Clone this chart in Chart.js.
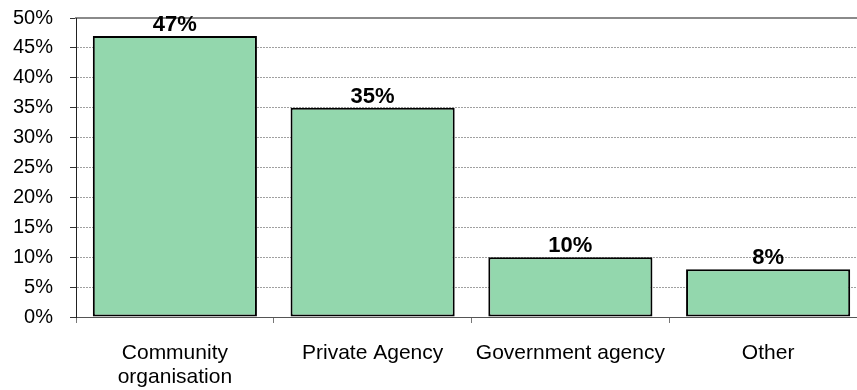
<!DOCTYPE html>
<html>
<head>
<meta charset="utf-8">
<script src="https://cdn.jsdelivr.net/npm/chart.js@4/dist/chart.umd.min.js"></script>
<style>
  html, body { margin: 0; padding: 0; background: #fff; overflow: hidden; }
  #wrap { width: 867px; height: 390px; }
</style>
</head>
<body>
<div id="wrap"><canvas id="c"></canvas></div>
<script>
// Who provides the service: share of respondents by provider type
const categories = [['Community', 'organisation'], 'Private Agency', 'Government agency', 'Other'];
const shares = [47, 35, 10, 8];
const yTicks = [0, 5, 10, 15, 20, 25, 30, 35, 40, 45, 50];

const FONT = '"Liberation Sans", Arial, sans-serif';

// Writes each bar's percentage just above its top edge
const valueLabels = {
  id: 'valueLabels',
  afterDatasetsDraw(chart) {
    const ctx = chart.ctx;
    const meta = chart.getDatasetMeta(0);
    ctx.save();
    ctx.font = 'bold 22px ' + FONT;
    ctx.fillStyle = '#000';
    ctx.textAlign = 'center';
    ctx.textBaseline = 'alphabetic';
    meta.data.forEach((bar, i) => {
      ctx.fillText(shares[i] + '%', bar.x, bar.y - 5);
    });
    ctx.restore();
  }
};

new Chart(document.getElementById('c'), {
  type: 'bar',
  data: {
    labels: categories,
    datasets: [{
      data: shares,
      backgroundColor: '#93D7AD',
      borderColor: '#000',
      borderWidth: 2,
      borderSkipped: false,
      categoryPercentage: 1,
      barPercentage: 0.83
    }]
  },
  options: {
    responsive: true,
    maintainAspectRatio: false,
    animation: false,
    layout: { padding: { top: 18, right: 0, left: 0, bottom: 0 } },
    plugins: { legend: { display: false }, tooltip: { enabled: false } },
    scales: {
      x: {
        offset: true,
        afterFit(scale) { scale.height = 73; },
        grid: {
          offset: true,
          drawOnChartArea: false,
          drawTicks: true,
          tickLength: 6,
          tickColor: '#777',
          color: '#777'
        },
        border: { color: '#555', width: 1 },
        ticks: {
          color: '#000',
          font: { family: FONT, size: 21, lineHeight: 1.143 },
          padding: 18,
          maxRotation: 0,
          autoSkip: false
        }
      },
      xTop: {
        type: 'category',
        position: 'top',
        labels: categories,
        grid: { display: false, drawTicks: false },
        ticks: { display: false },
        border: { color: '#8a8a8a', width: 2 }
      },
      y: {
        min: 0,
        max: 50,
        afterBuildTicks(scale) {
          scale.ticks = yTicks.map(v => ({ value: v }));
        },
        afterFit(scale) {
          scale.width = 76;
          scale.paddingTop = 0;
          scale.paddingBottom = 0;
        },
        grid: {
          color: (ctx) => (ctx.tick && ctx.tick.value > 0 && ctx.tick.value < 50) ? '#a0a0a0' : 'rgba(0,0,0,0)',
          lineWidth: 1,
          drawTicks: true,
          tickLength: 6,
          tickColor: '#333'
        },
        border: { color: '#222', width: 1, dash: [2, 1] },
        ticks: {
          color: '#000',
          font: { family: FONT, size: 20 },
          padding: 17,
          callback: (v) => v + '%'
        }
      }
    }
  },
  plugins: [valueLabels]
});
</script>
</body>
</html>
